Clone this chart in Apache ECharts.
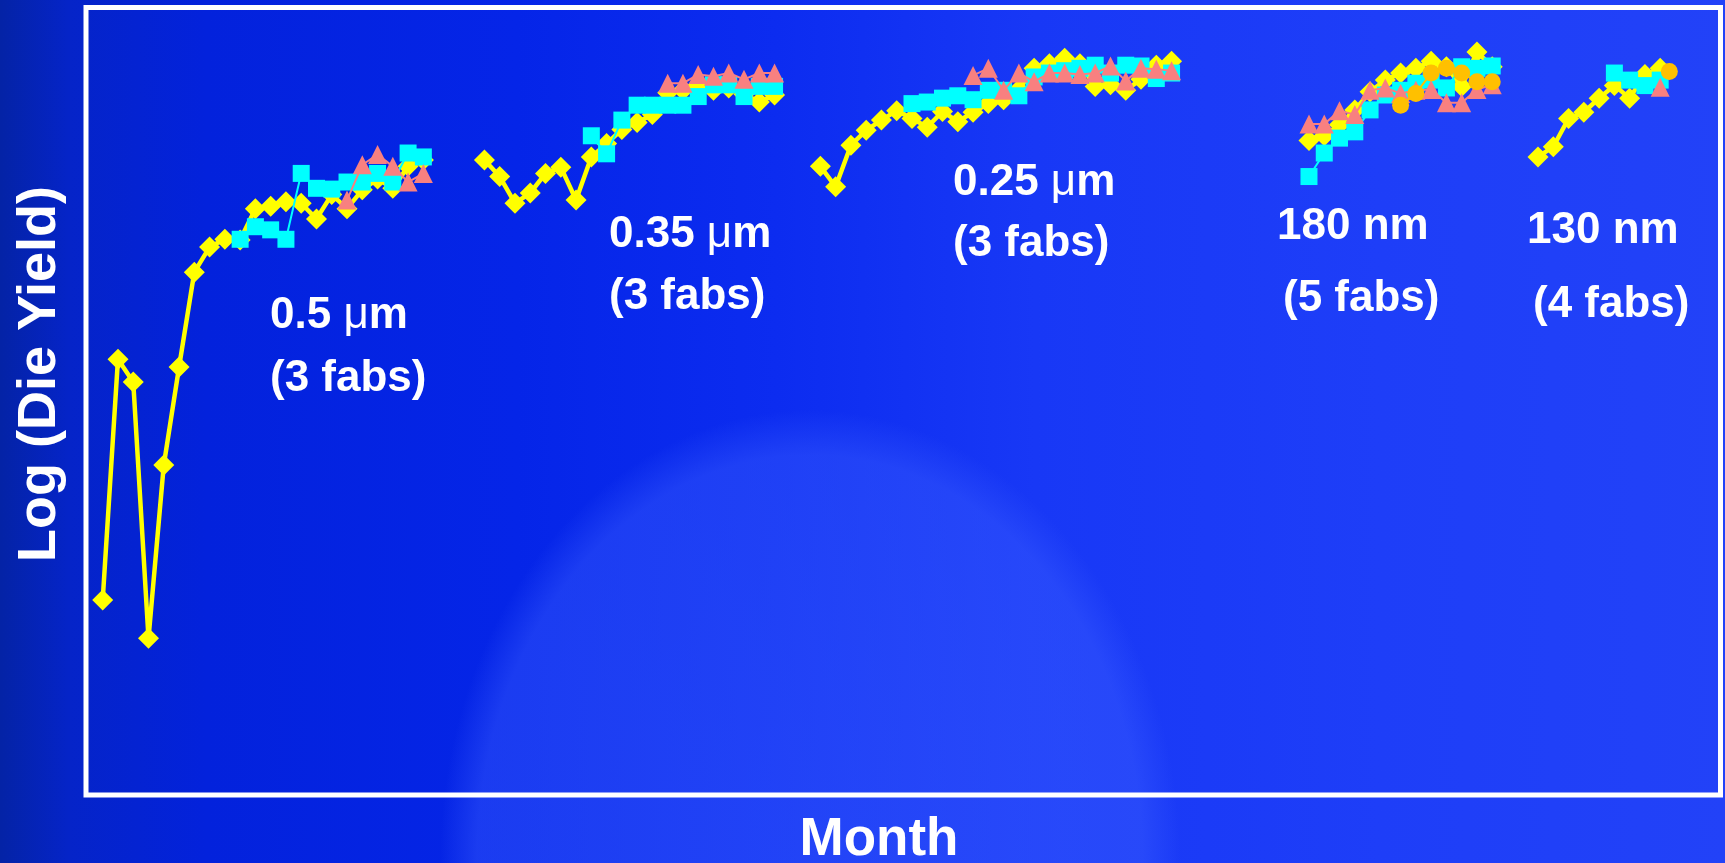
<!DOCTYPE html>
<html>
<head>
<meta charset="utf-8">
<script src="https://cdn.jsdelivr.net/npm/echarts@6/dist/echarts.min.js"></script>
<style>
html, body { margin: 0; padding: 0; width: 1725px; height: 863px; overflow: hidden; }
body {
  background:
    radial-gradient(ellipse 370px 450px at 810px 860px, rgba(60,95,255,0.45) 0%, rgba(60,95,255,0.40) 90%, rgba(60,95,255,0) 100%),
    linear-gradient(to right, #0423a6 0%, #0524c8 4%, #0322dc 12%, #0525e8 30%, #0c2cf0 45%, #1838f6 60%, #1e3ef8 80%, #2242f8 100%);
}
#chart { width: 1725px; height: 863px; }
</style>
</head>
<body>
<div id="chart"></div>
<script>
// ---- Data (x = month index, y = log die yield, arbitrary units 0-100) ----
// 0.5 um (3 fabs)
const start050Fab1 = 0;
const y050Fab1 = [24.5, 55.2, 52.3, 19.6, 41.7, 54.2, 66.3, 69.5, 70.5, 70.4, 74.4, 74.7, 75.3, 75.1, 73.1, 76.2, 74.4, 76.8, 78.2, 77.0, 79.8, 80.6];
const start050Fab2 = 9;
const y050Fab2 = [70.5, 72.1, 71.7, 70.5, 78.9, 77.0, 76.9, 77.8, 77.8, 78.9, 77.8, 81.5, 81.0];
const start050Fab3 = 16;
const y050Fab3 = [75.5, 80.0, 81.3, 79.8, 77.8, 78.9];

// 0.35 um (3 fabs)
const start035Fab1 = 25;
const y035Fab1 = [80.6, 78.5, 75.1, 76.4, 78.9, 79.7, 75.5, 81.0, 82.7, 84.5, 85.4, 86.4, 89.2, 89.5, 90.2, 89.5, 89.8, 89.0, 88.0, 88.9];
const start035Fab2 = 32;
const y035Fab2 = [83.7, 81.4, 85.7, 87.6, 87.6, 87.6, 87.6, 88.7, 90.2, 90.2, 88.7, 90.0, 90.0];
const start035Fab3 = 37;
const y035Fab3 = [90.4, 90.4, 91.5, 91.3, 91.7, 90.9, 91.7, 91.7];

// 0.25 um (3 fabs)
const start025Fab1 = 47;
const y025Fab1 = [79.8, 77.2, 82.5, 84.4, 85.7, 86.9, 85.9, 84.8, 86.8, 85.5, 86.7, 87.8, 88.3, 89.6, 92.3, 92.9, 93.6, 92.9, 90.0, 90.2, 89.5, 90.9, 92.7, 93.2];
const start025Fab2 = 53;
const y025Fab2 = [87.8, 88.0, 88.5, 88.8, 88.3, 89.5, 89.5, 88.8, 91.2, 91.7, 92.0, 92.3, 92.7, 91.7, 92.7, 92.6, 91.0, 91.7];
const start025Fab3 = 57;
const y025Fab3 = [91.4, 92.3, 89.5, 91.7, 90.6, 91.7, 91.7, 91.5, 91.7, 92.6, 90.7, 92.3, 92.2, 92.0];

// 180 nm (5 fabs)
const start180Fab1 = 79;
const y180Fab1 = [83.1, 83.7, 85.1, 87.0, 89.3, 90.8, 91.7, 92.3, 93.2, 92.5, 90.0, 94.4, 92.5];
const start180Fab2 = 79;
const y180Fab2 = [78.5, 81.5, 83.4, 84.2, 87.0, 88.9, 89.5, 90.4, 90.8, 89.8, 92.5, 92.3, 92.6];
const start180Fab3 = 79;
const y180Fab3 = [85.2, 85.2, 86.9, 86.4, 89.5, 89.8, 89.1, 89.5, 89.6, 87.9, 87.9, 89.6, 90.2];
const start180Fab4 = 85;
const y180Fab4 = [87.6, 89.1, 91.7, 92.3, 91.7, 90.6, 90.6];

// 130 nm (4 fabs)
const start130Fab1 = 94;
const y130Fab1 = [81.0, 82.3, 85.9, 86.7, 88.5, 90.1, 88.5, 91.5, 92.3];
const start130Fab2 = 99;
const y130Fab2 = [91.7, 90.8, 90.1, 90.8];
const start130Fab3 = 102;
const y130Fab3 = [89.9];
const start130Fab4 = 102.6;
const y130Fab4 = [91.9];

// Text labels
const techLabels = ['0.5 ', '0.35 ', '0.25 ', '180 nm', '130 nm'];
const fabLabels = ['(3 fabs)', '(3 fabs)', '(3 fabs)', '(5 fabs)', '(4 fabs)'];
const xAxisTitle = 'Month';
const yAxisTitle = 'Log (Die Yield)';

// ---- Build chart ----
function pts(start, vals) { return vals.map((v, i) => [start + i, v]); }

const styles = {
  fab1: { symbol: 'diamond', symbolSize: 21, color: '#FFFF00', width: 4.5, z: 2 },
  fab2: { symbol: 'rect', symbolSize: 17, color: '#00FFFF', width: 2, z: 3 },
  fab3: { symbol: 'triangle', symbolSize: 19, color: '#F88080', width: 2, z: 4 },
  fab4: { symbol: 'circle', symbolSize: 17, color: '#FFC000', width: 2, z: 5 }
};

function mk(name, start, vals, st) {
  return {
    name: name, type: 'line', data: pts(start, vals),
    symbol: st.symbol, symbolSize: st.symbolSize, showSymbol: true,
    lineStyle: { color: st.color, width: st.width },
    itemStyle: { color: st.color, borderWidth: 0 },
    z: st.z, silent: true, animation: false,
    emphasis: { disabled: true }
  };
}

const series = [
  mk('0.5 fab1', start050Fab1, y050Fab1, styles.fab1),
  mk('0.35 fab1', start035Fab1, y035Fab1, styles.fab1),
  mk('0.25 fab1', start025Fab1, y025Fab1, styles.fab1),
  mk('180 fab1', start180Fab1, y180Fab1, styles.fab1),
  mk('130 fab1', start130Fab1, y130Fab1, styles.fab1),
  mk('0.5 fab2', start050Fab2, y050Fab2, styles.fab2),
  mk('0.35 fab2', start035Fab2, y035Fab2, styles.fab2),
  mk('0.25 fab2', start025Fab2, y025Fab2, styles.fab2),
  mk('180 fab2', start180Fab2, y180Fab2, styles.fab2),
  mk('130 fab2', start130Fab2, y130Fab2, styles.fab2),
  mk('0.5 fab3', start050Fab3, y050Fab3, styles.fab3),
  mk('0.35 fab3', start035Fab3, y035Fab3, styles.fab3),
  mk('0.25 fab3', start025Fab3, y025Fab3, styles.fab3),
  mk('180 fab3', start180Fab3, y180Fab3, styles.fab3),
  mk('130 fab3', start130Fab3, y130Fab3, styles.fab3),
  mk('180 fab4', start180Fab4, y180Fab4, styles.fab4),
  mk('130 fab4', start130Fab4, y130Fab4, styles.fab4)
];

const FONT = '"Liberation Sans", Arial, Helvetica, sans-serif';
const labelFont = 'bold 44px ' + FONT;
const mu = '\u03BC';

function richTech(prefix) {
  return {
    type: 'text',
    style: {
      text: '{a|' + prefix + '}{b|' + mu + '}{a|m}',
      rich: {
        a: { font: labelFont, fill: '#fff' },
        b: { font: 'normal 44px ' + FONT, fill: '#fff' }
      },
      fill: '#fff', align: 'left', verticalAlign: 'middle'
    }
  };
}
function plainText(txt, font, extra) {
  return Object.assign({
    type: 'text',
    style: { text: txt, font: font, fill: '#fff', align: 'left', verticalAlign: 'middle' }
  }, extra || {});
}

const lbl = [
  [270, 316, 270, 379],
  [609, 235, 609, 297],
  [953, 183, 953, 244],
  [1277, 227, 1283, 299],
  [1527, 231, 1533, 305]
];
const graphics = [];
for (let i = 0; i < 5; i++) {
  const p = lbl[i];
  let g1;
  if (i < 3) { g1 = richTech(techLabels[i]); } else { g1 = plainText(techLabels[i], labelFont); }
  g1.x = p[0]; g1.y = p[1];
  graphics.push(g1);
  const g2 = plainText(fabLabels[i], labelFont);
  g2.x = p[2]; g2.y = p[3];
  graphics.push(g2);
}
graphics.push({
  type: 'text', x: 879, y: 840,
  style: { text: xAxisTitle, font: 'bold 53px ' + FONT, fill: '#fff', align: 'center', verticalAlign: 'middle' }
});
graphics.push({
  type: 'text', x: 40, y: 374, rotation: Math.PI / 2,
  style: { text: yAxisTitle, font: 'bold 54px ' + FONT, fill: '#fff', align: 'center', verticalAlign: 'middle' }
});

const chart = echarts.init(document.getElementById('chart'), null, { renderer: 'canvas' });
chart.setOption({
  backgroundColor: 'transparent',
  animation: false,
  grid: {
    left: 86, top: 7.5, width: 1634.5, height: 787.5,
    show: true, borderColor: '#ffffff', borderWidth: 5, backgroundColor: 'transparent',
    containLabel: false
  },
  xAxis: {
    type: 'value', min: -1.094, max: 105.95,
    show: false, splitLine: { show: false }
  },
  yAxis: {
    type: 'value', min: -0.38, max: 100.06,
    show: false, splitLine: { show: false }
  },
  series: series,
  graphic: { elements: graphics }
});
</script>
</body>
</html>
